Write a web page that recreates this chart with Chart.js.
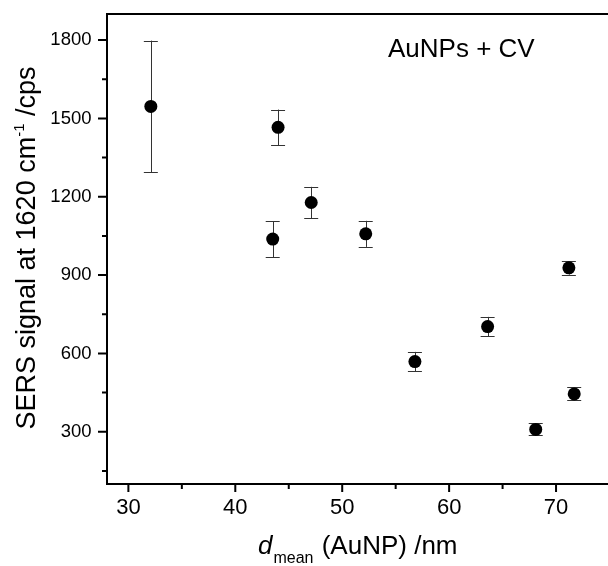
<!DOCTYPE html>
<html><head><meta charset="utf-8">
<script src="https://cdn.jsdelivr.net/npm/chart.js@4/dist/chart.umd.min.js"></script>
<style>
html,body{margin:0;padding:0;overflow:hidden;background:#fff;width:608px;height:566px}
#wrap{position:absolute;left:0;top:0;width:616px;height:566px}
</style>
</head><body><div id="wrap"><canvas id="c"></canvas></div>
<script>
// Data
const diameters = [32.1, 44.0, 43.5, 47.1, 52.2, 56.8, 63.6, 71.2, 71.7, 68.1];
const sersSignal = [1546, 1466, 1038, 1178, 1058, 569, 703, 928, 445, 309];
const sersError = [252, 68, 69, 60, 50, 37, 37, 26, 25, 23];
const xMajorTicks = [30, 40, 50, 60, 70];
const xMinorTicks = [35, 45, 55, 65, 75];
const yMajorTicks = [300, 600, 900, 1200, 1500, 1800];
const yMinorTicks = [150, 450, 750, 1050, 1350, 1650];
const annotationText = 'AuNPs + CV';

const FONT = '"Liberation Sans", Arial, Helvetica, sans-serif';

const framePlugin = {
  id: 'frame',
  beforeDatasetsDraw(chart) {
    const {ctx, scales: {x, y}} = chart;
    ctx.save();
    ctx.strokeStyle = '#333';
    ctx.lineWidth = 1;
    diameters.forEach((d, i) => {
      const px = x.getPixelForValue(d);
      const top = y.getPixelForValue(sersSignal[i] + sersError[i]);
      const bot = y.getPixelForValue(sersSignal[i] - sersError[i]);
      ctx.beginPath();
      ctx.moveTo(Math.round(px) + 0.5, top);
      ctx.lineTo(Math.round(px) + 0.5, bot);
      ctx.moveTo(px - 7, Math.round(top) + 0.5);
      ctx.lineTo(px + 7, Math.round(top) + 0.5);
      ctx.moveTo(px - 7, Math.round(bot) + 0.5);
      ctx.lineTo(px + 7, Math.round(bot) + 0.5);
      ctx.stroke();
    });
    ctx.restore();
  },
  afterDraw(chart) {
    const {ctx, chartArea: a, scales: {x, y}} = chart;
    ctx.save();
    ctx.strokeStyle = '#000';
    ctx.lineWidth = 2;
    ctx.strokeRect(a.left, a.top, a.right - a.left, a.bottom - a.top);
    ctx.beginPath();
    const tick = (vals, len, axis) => vals.forEach(v => {
      if (axis === 'x') {
        const p = x.getPixelForValue(v);
        ctx.moveTo(p, a.bottom); ctx.lineTo(p, a.bottom + len);
      } else {
        const p = y.getPixelForValue(v);
        ctx.moveTo(a.left, p); ctx.lineTo(a.left - len, p);
      }
    });
    tick(xMajorTicks, 8, 'x'); tick(xMinorTicks, 5, 'x');
    tick(yMajorTicks, 9, 'y'); tick(yMinorTicks, 5, 'y');
    ctx.stroke();

    ctx.fillStyle = '#000';
    ctx.textBaseline = 'alphabetic';
    ctx.textAlign = 'left';
    // annotation
    ctx.font = '26px ' + FONT;
    ctx.fillText(annotationText, 388, 57);

    // x title: d_mean (AuNP) /nm
    let xx = 258, by = 554;
    ctx.font = 'italic 26px ' + FONT;
    ctx.fillText('d', xx, by); xx += ctx.measureText('d').width + 1;
    ctx.font = '16px ' + FONT;
    ctx.fillText('mean', xx, by + 9); xx += ctx.measureText('mean').width + 1;
    ctx.font = '26px ' + FONT;
    ctx.fillText(' (AuNP) /nm', xx, by);

    // y title rotated
    ctx.translate(35, 248);
    ctx.rotate(-Math.PI / 2);
    const p1 = 'SERS signal at 1620 cm', sup = '-1', p2 = ' /cps';
    ctx.font = '27px ' + FONT;
    const w1 = ctx.measureText(p1).width, w3 = ctx.measureText(p2).width;
    ctx.font = '15px ' + FONT;
    const w2 = ctx.measureText(sup).width;
    let sx = -(w1 + w2 + w3) / 2;
    ctx.font = '27px ' + FONT;
    ctx.fillText(p1, sx, 0); sx += w1;
    ctx.font = '15px ' + FONT;
    ctx.fillText(sup, sx, -11); sx += w2;
    ctx.font = '27px ' + FONT;
    ctx.fillText(p2, sx, 0);
    ctx.restore();
  }
};

new Chart(document.getElementById('c'), {
  type: 'scatter',
  data: {
    datasets: [{
      data: diameters.map((d, i) => ({x: d, y: sersSignal[i]})),
      backgroundColor: '#000',
      borderColor: '#000',
      borderWidth: 0,
      pointRadius: 6.5,
      pointHoverRadius: 6.5
    }]
  },
  options: {
    responsive: true,
    maintainAspectRatio: false,
    animation: false,
    events: [],
    layout: {padding: {top: 14, right: 1, left: 0, bottom: 0}},
    plugins: {legend: {display: false}, tooltip: {enabled: false}},
    scales: {
      x: {
        type: 'linear', min: 28, max: 75,
        grid: {display: false},
        border: {display: false},
        afterBuildTicks: s => { s.ticks = xMajorTicks.map(v => ({value: v})); },
        afterFit: s => { s.height = 82; s.paddingLeft = 0; s.paddingRight = 0; },
        ticks: {color: '#000', padding: 3, font: {family: FONT, size: 22}, maxRotation: 0, autoSkip: false,
                callback: v => String(v)}
      },
      y: {
        type: 'linear', min: 100, max: 1900,
        grid: {display: false},
        border: {display: false},
        afterBuildTicks: s => { s.ticks = yMajorTicks.map(v => ({value: v})); },
        afterFit: s => { s.width = 107; s.paddingTop = 0; s.paddingBottom = 0; },
        ticks: {color: '#000', padding: 7.5, font: {family: FONT, size: 18.5}, autoSkip: false,
                callback: v => String(v)}
      }
    }
  },
  plugins: [framePlugin]
});
</script>
</body></html>
